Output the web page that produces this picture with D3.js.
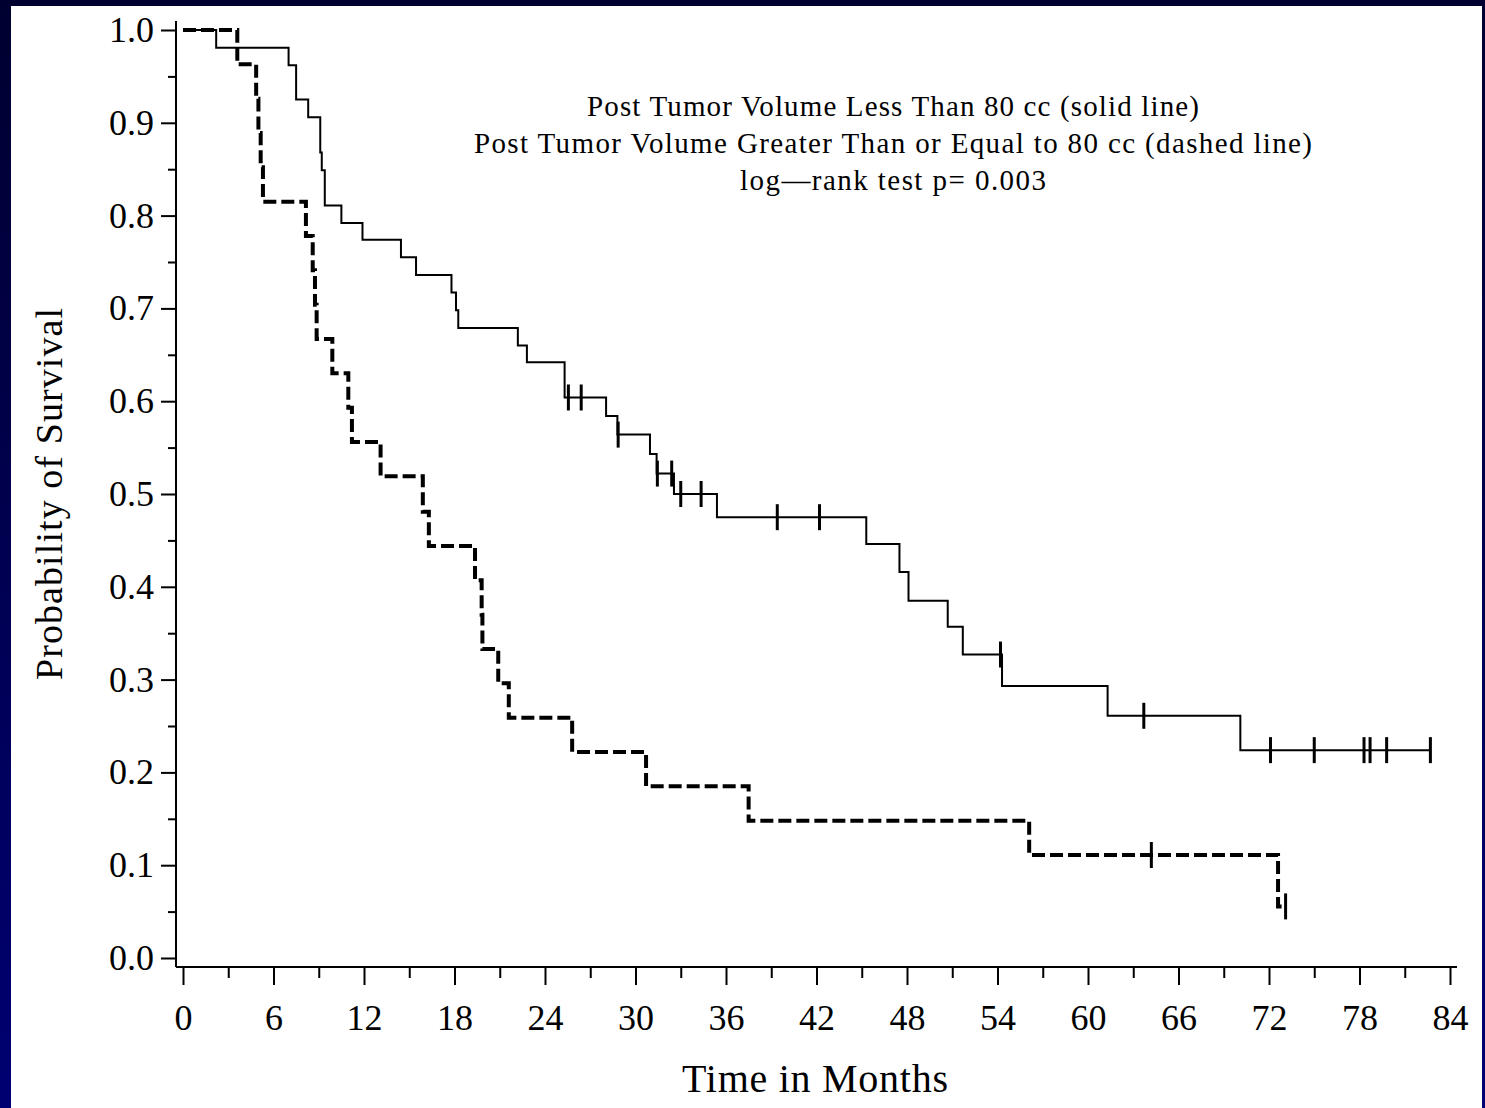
<!DOCTYPE html>
<html>
<head>
<meta charset="utf-8">
<script src="https://cdn.jsdelivr.net/npm/d3@7"></script>
<style>
  body { margin: 0; background: #000040; }
  svg text { font-family: "Liberation Serif", "DejaVu Serif", serif; fill: #000; }
</style>
</head>
<body>
<div id="container"></div>
<script>
// Kaplan-Meier estimates (months, survival)
var solidTimes = [2.2, 7.0, 7.5, 8.3, 9.1, 9.2, 9.4, 10.5, 11.9, 14.45, 15.45, 17.8, 18.1, 18.25, 22.2, 22.8,
                  25.3, 28.05, 28.8, 30.96, 31.4, 32.55, 35.4, 45.3, 47.5, 48.1, 50.7, 51.7, 54.3, 61.3, 70.1];
var solidSurv  = [0.981, 0.962, 0.925, 0.906, 0.868, 0.849, 0.811, 0.792, 0.774, 0.755, 0.736, 0.717, 0.698, 0.679, 0.660, 0.642,
                  0.604, 0.584, 0.564, 0.543, 0.522, 0.500, 0.475, 0.446, 0.416, 0.385, 0.357, 0.327, 0.293, 0.261, 0.224];
var solidCensor = [25.55, 26.4, 28.85, 31.45, 32.4, 33.0, 34.35, 39.4, 42.2, 54.2, 63.7, 72.1, 75.0, 78.3, 78.7, 79.8, 82.7];

var dashedTimes = [3.6, 4.85, 5.0, 5.15, 5.3, 8.15, 8.6, 8.75, 8.86, 9.9, 10.96, 11.2, 13.1, 15.9, 16.3,
                   19.36, 19.8, 19.85, 20.9, 21.6, 25.8, 30.7, 37.5, 56.1, 72.6];
var dashedSurv  = [0.963, 0.926, 0.889, 0.852, 0.815, 0.778, 0.741, 0.704, 0.667, 0.630, 0.593, 0.556, 0.519, 0.481, 0.444,
                   0.407, 0.370, 0.333, 0.296, 0.259, 0.222, 0.185, 0.148, 0.111, 0.0556];
var dashedCensor = [64.2, 73.1];

var xTicks = d3.range(0, 85, 6);
var xMinor = d3.range(3, 84, 6);
var yTicks = d3.range(0, 11).map(function(i) { return i / 10; });
var yMinor = d3.range(0, 10).map(function(i) { return i / 10 + 0.05; });

var titleLines = [
  'Post Tumor Volume Less Than 80 cc (solid line)',
  'Post Tumor Volume Greater Than or Equal to 80 cc (dashed line)',
  'log\u2014rank test p= 0.003'
];

var svgWidth = 1485, svgHeight = 1108;
var svg = d3.select('#container').append('svg').attr('width', svgWidth).attr('height', svgHeight);

var grad = svg.append('defs').append('linearGradient').attr('id', 'bg')
    .attr('x1', 0).attr('y1', 0).attr('x2', 0).attr('y2', 1);
grad.append('stop').attr('offset', '0%').attr('stop-color', '#000030');
grad.append('stop').attr('offset', '100%').attr('stop-color', '#000072');

svg.append('rect').attr('width', svgWidth).attr('height', svgHeight).attr('fill', 'url(#bg)');
svg.append('rect').attr('x', 11).attr('y', 6).attr('width', 1471).attr('height', svgHeight - 6).attr('fill', 'white');

var x = d3.scaleLinear().domain([0, 84]).range([183, 1450]);
var y = d3.scaleLinear().domain([0, 1]).range([958, 30]);

// axes lines
svg.append('line').attr('x1', 176).attr('x2', 176).attr('y1', 21).attr('y2', 967)
  .attr('stroke', '#000').attr('stroke-width', 2);
svg.append('line').attr('x1', 176).attr('x2', 1457).attr('y1', 967).attr('y2', 967)
  .attr('stroke', '#000').attr('stroke-width', 2);

svg.append('g').attr('transform', 'translate(176,0)')
  .call(d3.axisLeft(y).tickValues(yTicks).tickSize(15).tickPadding(7).tickFormat(d3.format('.1f')));
svg.append('g').attr('transform', 'translate(176,0)')
  .call(d3.axisLeft(y).tickValues(yMinor).tickSize(8).tickFormat(''));

svg.append('g').attr('transform', 'translate(0,967)')
  .call(d3.axisBottom(x).tickValues(xTicks).tickSize(18).tickPadding(19));
svg.append('g').attr('transform', 'translate(0,967)')
  .call(d3.axisBottom(x).tickValues(xMinor).tickSize(11).tickFormat(''));

svg.selectAll('.domain').remove();
svg.selectAll('.tick line').attr('stroke', '#000').attr('stroke-width', 2);
svg.selectAll('.tick text').style('font-size', '36px').attr('fill', '#000')
  .style('font-family', '"Liberation Serif", serif');

// curves
var line = d3.line()
  .x(function(d) { return x(d[0]); })
  .y(function(d) { return y(d[1]); })
  .curve(d3.curveStepAfter);

function stepPoints(times, surv, censor) {
  var pts = [[0, 1]];
  times.forEach(function(t, i) { pts.push([t, surv[i]]); });
  var end = d3.max(censor.concat(times));
  pts.push([end, surv[surv.length - 1]]);
  return pts;
}
function survAt(times, surv, t) {
  var i = d3.bisectRight(times, t);
  return i === 0 ? 1 : surv[i - 1];
}

svg.append('path')
  .datum(stepPoints(solidTimes, solidSurv, solidCensor))
  .attr('fill', 'none').attr('stroke', '#000').attr('stroke-width', 2)
  .attr('d', line);

svg.append('path')
  .datum(stepPoints(dashedTimes, dashedSurv, dashedCensor))
  .attr('fill', 'none').attr('stroke', '#000').attr('stroke-width', 4)
  .attr('stroke-dasharray', '13,5')
  .attr('d', line);

svg.selectAll('.cens-solid').data(solidCensor).enter().append('line')
  .attr('x1', function(d) { return x(d); }).attr('x2', function(d) { return x(d); })
  .attr('y1', function(d) { return y(survAt(solidTimes, solidSurv, d)) - 13; })
  .attr('y2', function(d) { return y(survAt(solidTimes, solidSurv, d)) + 13; })
  .attr('stroke', '#000').attr('stroke-width', 3);

svg.selectAll('.cens-dashed').data(dashedCensor).enter().append('line')
  .attr('x1', function(d) { return x(d); }).attr('x2', function(d) { return x(d); })
  .attr('y1', function(d) { return y(survAt(dashedTimes, dashedSurv, d)) - 13; })
  .attr('y2', function(d) { return y(survAt(dashedTimes, dashedSurv, d)) + 13; })
  .attr('stroke', '#000').attr('stroke-width', 3);

// header text
var lineLens = [612, 838, 306];
svg.selectAll('.title').data(titleLines).enter().append('text')
  .attr('x', 893).attr('y', function(d, i) { return 116 + i * 37; })
  .attr('text-anchor', 'middle')
  .attr('textLength', function(d, i) { return lineLens[i]; })
  .attr('lengthAdjust', 'spacing')
  .style('font-size', '29px')
  .text(function(d) { return d; });

svg.append('text')
  .attr('x', 815).attr('y', 1092)
  .attr('text-anchor', 'middle')
  .attr('textLength', 266).attr('lengthAdjust', 'spacing')
  .style('font-size', '40px')
  .text('Time in Months');

svg.append('text')
  .attr('transform', 'translate(62,494) rotate(-90)')
  .attr('text-anchor', 'middle')
  .attr('textLength', 372).attr('lengthAdjust', 'spacing')
  .style('font-size', '38px')
  .text('Probability of Survival');
</script>
</body>
</html>
